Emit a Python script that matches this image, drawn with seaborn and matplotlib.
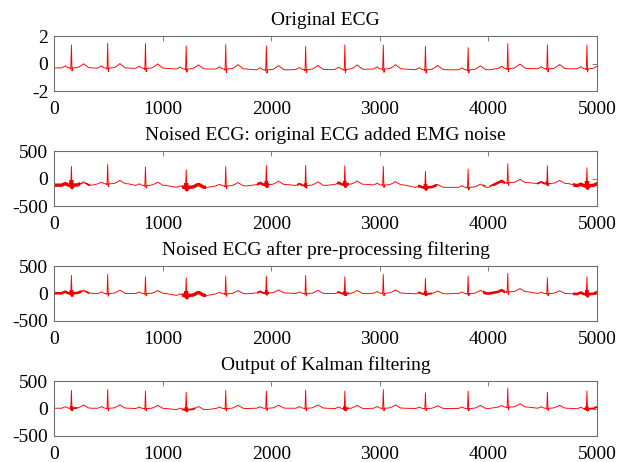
import numpy as np
import pandas as pd
import matplotlib
matplotlib.use("Agg")
import matplotlib.pyplot as plt
import seaborn as sns
from matplotlib.patches import Rectangle

# ---------------- data ----------------
titles = ["Original ECG",
          "Noised ECG: original ECG added EMG noise",
          "Noised ECG after pre-processing filtering",
          "Output of Kalman filtering"]

# R-peak sample positions (same beats in all four records)
r_pos = [160, 494, 842, 1217, 1581, 1955, 2317, 2678, 3032, 3420, 3813, 4178, 4543, 4907]

# R-peak tops and baseline level of every beat, per panel
r_top_orig = [1.35, 1.47, 1.45, 1.28, 1.38, 1.28, 1.23, 1.35, 1.35, 1.26, 1.16, 1.45, 1.35, 1.35]
base_orig = [-0.32, -0.33, -0.35, -0.40, -0.40, -0.46, -0.44, -0.42, -0.40, -0.45, -0.46, -0.36, -0.38, -0.38]

r_top_noised = [221, 258, 210, 160, 216, 240, 240, 234, 222, 130, 173, 271, 234, 197]
base_noised = [-120, -96, -125, -160, -134, -110, -125, -105, -116, -160, -160, -75, -90, -130]

r_top_pre = [329, 345, 304, 286, 316, 316, 329, 304, 345, 279, 316, 365, 286, 304]
base_pre = [5, 0, 0, -35, -5, 10, 0, 0, 5, -5, 0, 30, 0, -10]

r_top_kalman = [329, 345, 316, 298, 329, 316, 335, 316, 345, 286, 316, 370, 298, 316]
base_kalman = [5, 5, 0, -20, 0, 5, 5, 0, 5, 0, 0, 25, 5, -5]

# one heartbeat: sample offset from R, height as fraction of R height
beat_offset = [-90, -70, -55, -40, -25, -12, -6, 0, 6, 12, 20, 60, 90, 112, 135, 160, 190]
beat_shape = [0.0, 0.05, 0.09, 0.03, 0.0, 0.0, -0.05, 1.0, -0.14, 0.0, 0.0, 0.02, 0.10, 0.18, 0.10, 0.01, 0.0]

# segments where the trace is noisy (start, end, noise level 0..3)
noise_noised = [(0, 240, 3), (240, 330, 1), (1180, 1400, 3), (1870, 1975, 2), (2240, 2330, 1),
                (2610, 2720, 2), (3350, 3530, 2), (3950, 4150, 2), (4450, 4550, 1), (4780, 5000, 3)]
noise_pre = [(0, 250, 2), (250, 320, 1), (1180, 1400, 3), (1870, 1975, 1), (2610, 2720, 1),
             (3350, 3480, 1), (3950, 4150, 2), (4780, 5000, 2)]
noise_kalman = [(150, 210, 1), (1180, 1300, 1), (2660, 2720, 1), (4880, 5000, 1)]
noise_orig = []

x_ticks = [0, 1000, 2000, 3000, 4000, 5000]
y_ticks_orig = [-2, 0, 2]
y_ticks_mv = [-500, 0, 500]

panels = [
    (titles[0], r_top_orig, base_orig, noise_orig, (-2, 2), y_ticks_orig),
    (titles[1], r_top_noised, base_noised, noise_noised, (-500, 500), y_ticks_mv),
    (titles[2], r_top_pre, base_pre, noise_pre, (-500, 500), y_ticks_mv),
    (titles[3], r_top_kalman, base_kalman, noise_kalman, (-500, 500), y_ticks_mv),
]


def trace(r_top, base):
    xs, ys = [0], [base[0]]
    for r, top, b in zip(r_pos, r_top, base):
        for off, sh in zip(beat_offset, beat_shape):
            xs.append(r + off)
            ys.append(b + sh * (top - b))
    return pd.DataFrame({"sample": xs, "value": ys})


# ---------------- drawing ----------------
sns.set_theme(style="white")
plt.rcParams["font.family"] = ["Liberation Serif", "DejaVu Serif"]
plt.rcParams["axes.unicode_minus"] = False

fig = plt.figure(figsize=(6.21, 4.62), dpi=100)
bottoms = [0.803, 0.554, 0.3052, 0.0563]
edge = "#6e6e6e"

for (title, r_top, base, noise, ylim, yt), bot in zip(panels, bottoms):
    ax = fig.add_axes([0.087, bot, 0.8744, 0.119])
    df = trace(r_top, base)
    sns.lineplot(data=df, x="sample", y="value", ax=ax, color="#ff0000",
                 linewidth=0.65, sort=False, estimator=None)
    span = ylim[1] - ylim[0]
    for a, b, lvl in noise:
        mid = 0.5 * (a + b)
        k = int(np.argmin([abs(r - mid) for r in r_pos]))
        lvl_base = base[k]
        half = span * (0.025 + 0.02 * lvl)
        sns.lineplot(data=df, x="sample", y="value", ax=ax, color="#ee0000",
                     linewidth=0.8 + 0.55 * lvl, sort=False, estimator=None)
        ln = ax.lines[-1]
        ln.set_clip_path(Rectangle((a, lvl_base - half), b - a, 2 * half,
                                   transform=ax.transData))
    ax.set_xlim(0, 5000)
    ax.set_ylim(*ylim)
    ax.set_xticks(x_ticks)
    ax.set_yticks(yt)
    ax.set_xticklabels([str(v) for v in x_ticks])
    ax.set_yticklabels([str(v) for v in yt])
    ax.set_xlabel("")
    ax.set_ylabel("")
    ax.set_title(title, fontsize=14, pad=8, color="black")
    ax.tick_params(axis="both", direction="in", top=True, right=True, length=3.5, width=0.6,
                   color=edge, labelsize=14, labelcolor="black", pad=4)
    ax.tick_params(axis="x", pad=7.5)
    for s in ax.spines.values():
        s.set_visible(True)
        s.set_color(edge)
        s.set_linewidth(0.8)

fig.savefig("out.png", dpi=100, facecolor="white")
